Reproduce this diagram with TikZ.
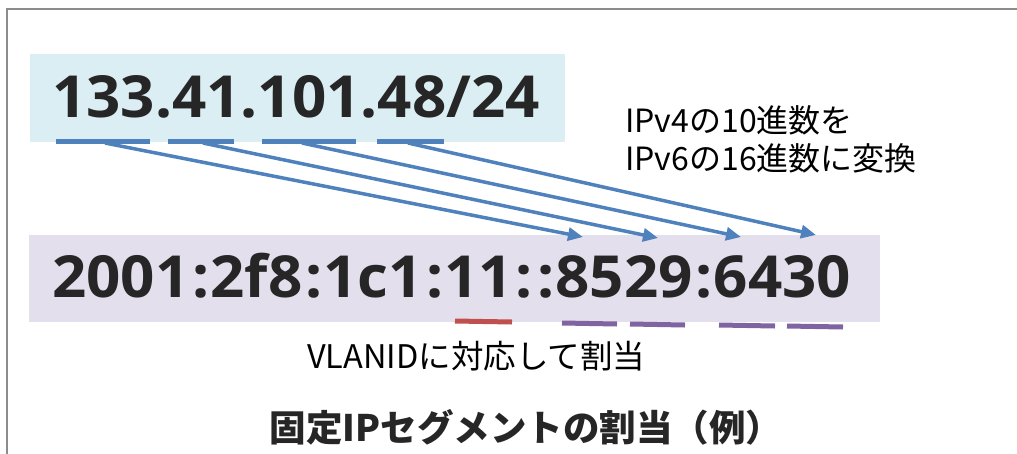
\documentclass[tikz,border=0pt]{standalone}
\usepackage{fontspec}
\setmainfont{Open Sans}
\newfontfamily\numfont{Open Sans}[FakeStretch=1.035]
\newfontfamily\jpfont{Noto Sans CJK JP}
\usetikzlibrary{arrows.meta}
\definecolor{ipblue}{HTML}{4F81BD}
\definecolor{boxblue}{HTML}{DBEEF4}
\definecolor{boxlilac}{HTML}{E4DFEC}
\definecolor{ulred}{HTML}{C0504D}
\definecolor{ulpurple}{HTML}{8064A2}
\definecolor{txt}{HTML}{262626}
\definecolor{frame}{HTML}{8C8C8C}
\newcommand{\cln}{\kern3pt:\kern1.2pt}
\tikzset{
  bignum/.style={anchor=base west, inner sep=0pt, text=txt, font=\numfont\bfseries\fontsize{58}{70}\selectfont},
  lbl/.style={anchor=base west, inner sep=0pt, text=black, font=\jpfont\fontsize{32}{38}\selectfont, align=left},
  ttl/.style={anchor=base, inner sep=0pt, text=txt, font=\jpfont\bfseries\fontsize{36.5}{40}\selectfont},
  ulblue/.style={draw=ipblue, line width=5pt},
  ulr/.style={draw=ulred, line width=5pt},
  ulp/.style={draw=ulpurple, line width=5pt},
  conv/.style={draw=ipblue, line width=3.5pt, -{Triangle[length=15pt,width=13pt]}},
}
\begin{document}
\begin{tikzpicture}[x=1pt,y=-1pt]
\useasboundingbox (0,0) rectangle (1017,453);
% frame
\draw[frame, line width=2pt] (7,460) -- (7,9) -- (1025,9);
% boxes
\fill[boxblue] (30,54) rectangle (565,142);
\fill[boxlilac] (29,235) rectangle (880,322);
% texts
\node[bignum] (v4) at (52,117) {133.41.101.48/24};
\node[bignum] (v6) at (52,297) {2001\cln 2f8\cln 1c1\cln 11\cln\cln 8529\cln 6430};
\node[lbl] (l1) at (625,132) {IPv4の10進数を};
\node[lbl] (l2) at (625,170) {IPv6の16進数に変換};
\node[lbl, font=\jpfont\fontsize{32.5}{38}\selectfont] (vl) at (307,368) {VLANIDに対応して割当};
\node[ttl] (title) at (526,441) {固定IPセグメントの割当（例）};
% blue underlines
\coordinate (u1a) at (56,141); \coordinate (u1b) at (150,141);
\coordinate (u2a) at (168,141); \coordinate (u2b) at (234,141);
\coordinate (u3a) at (262,141); \coordinate (u3b) at (356,141);
\coordinate (u4a) at (377,141); \coordinate (u4b) at (444,141);
\draw[ulblue] (u1a) -- (u1b);
\draw[ulblue] (u2a) -- (u2b);
\draw[ulblue] (u3a) -- (u3b);
\draw[ulblue] (u4a) -- (u4b);
% arrows
\coordinate (s1) at (105,143); \coordinate (e1) at (583,237);
\coordinate (s2) at (203,143); \coordinate (e2) at (658,238);
\coordinate (s3) at (302,143); \coordinate (e3) at (741,237);
\coordinate (s4) at (408,143); \coordinate (e4) at (816,235);
\draw[conv] (s1) -- (e1);
\draw[conv] (s2) -- (e2);
\draw[conv] (s3) -- (e3);
\draw[conv] (s4) -- (e4);
% lower underlines
\coordinate (r1a) at (455,321); \coordinate (r1b) at (512,322);
\coordinate (p1a) at (562,323); \coordinate (p1b) at (617,324);
\coordinate (p2a) at (630,324); \coordinate (p2b) at (685,325);
\coordinate (p3a) at (719,325); \coordinate (p3b) at (775,326);
\coordinate (p4a) at (787,326); \coordinate (p4b) at (843,327);
\draw[ulr] (r1a) -- (r1b);
\draw[ulp] (p1a) -- (p1b);
\draw[ulp] (p2a) -- (p2b);
\draw[ulp] (p3a) -- (p3b);
\draw[ulp] (p4a) -- (p4b);
\end{tikzpicture}
\end{document}
